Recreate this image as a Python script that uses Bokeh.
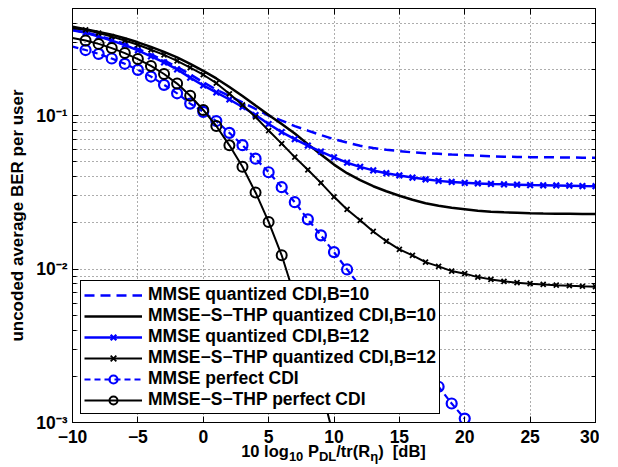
from bokeh.plotting import figure
from bokeh.layouts import column
from bokeh.models import (FixedTicker, CustomJSTickFormatter, LinearAxis, LogAxis,
                          Range1d, Legend, LegendItem, Div)
from bokeh.embed import file_html
from bokeh.resources import INLINE

# ---------------- data ----------------
snr_db = list(range(-10, 31))
snr_mmse_perfect = list(range(-10, 21))
snr_thp_perfect = list(range(-10, 11))

mmse_q_b10 = [0.363, 0.350, 0.332, 0.313, 0.294, 0.273, 0.251, 0.2295, 0.208, 0.186,
              0.165, 0.148, 0.1345, 0.122, 0.1106, 0.1003, 0.0930, 0.0856, 0.0800, 0.0748,
              0.0704, 0.0668, 0.0637, 0.0615, 0.0599, 0.0588, 0.0577, 0.0570, 0.0564, 0.0558,
              0.0553, 0.0548, 0.0544, 0.0541, 0.0539, 0.0537, 0.0536, 0.0535, 0.0534, 0.0533, 0.0533]
thp_q_b10 = [0.380, 0.366, 0.352, 0.337, 0.320, 0.301, 0.281, 0.261, 0.240, 0.218,
             0.196, 0.175, 0.154, 0.1345, 0.1166, 0.1011, 0.0883, 0.0765, 0.0653, 0.0558,
             0.0480, 0.0422, 0.0380, 0.0347, 0.0322, 0.0301, 0.0283, 0.0269, 0.0259, 0.0251,
             0.02456, 0.0240, 0.02365, 0.02347, 0.0233, 0.02312, 0.02302, 0.02295, 0.02293, 0.0229, 0.02285]
mmse_q_b12 = [0.3605, 0.347, 0.328, 0.309, 0.289, 0.267, 0.2436, 0.2226, 0.2004, 0.177,
              0.1575, 0.1418, 0.1276, 0.114, 0.1011, 0.0883, 0.0782, 0.0704, 0.0639, 0.0583,
              0.0535, 0.0494, 0.0464, 0.0440, 0.0422, 0.0408, 0.0395, 0.0385, 0.0376, 0.0370,
              0.0365, 0.0362, 0.0359, 0.0357, 0.0355, 0.0353, 0.0352, 0.0351, 0.0350, 0.0348, 0.0347]
thp_q_b12 = [0.372, 0.363, 0.346, 0.328, 0.309, 0.290, 0.269, 0.249, 0.228, 0.206,
             0.185, 0.163, 0.139, 0.1175, 0.0981, 0.080, 0.0658, 0.0537, 0.0444, 0.0365,
             0.0296, 0.0245, 0.0208, 0.0176, 0.0152, 0.01345, 0.0123, 0.0111, 0.01042, 0.00971,
             0.00934, 0.00887, 0.00857, 0.00832, 0.00816, 0.00804, 0.00795, 0.00786, 0.00779, 0.00773, 0.00768]
mmse_perfect = [0.282, 0.268, 0.253, 0.236, 0.218, 0.199, 0.180, 0.159, 0.140, 0.120,
                0.106, 0.0923, 0.0773, 0.0643, 0.0525, 0.0428, 0.0342, 0.0273, 0.0211, 0.0166,
                0.0129, 0.00995, 0.00773, 0.0060, 0.00466, 0.00361, 0.00281, 0.00219, 0.00171, 0.00133, 0.00106]
thp_perfect = [0.321, 0.309, 0.294, 0.276, 0.256, 0.234, 0.211, 0.187, 0.162, 0.135,
               0.109, 0.0857, 0.0641, 0.0465, 0.0316, 0.0203, 0.0123, 0.00661, 0.00347, 0.0017, 0.000794]

series_labels = ["MMSE quantized CDI,B=10",
                 "MMSE\u2212S\u2212THP quantized CDI,B=10",
                 "MMSE quantized CDI,B=12",
                 "MMSE\u2212S\u2212THP quantized CDI,B=12",
                 "MMSE perfect CDI",
                 "MMSE\u2212S\u2212THP perfect CDI"]

x_ticks = [-10, -5, 0, 5, 10, 15, 20, 25, 30]
y_major = [1e-3, 1e-2, 1e-1]
y_minor = [m * 10.0 ** e for e in (-3, -2, -1) for m in range(2, 10) if m * 10.0 ** e <= 0.5]
y_label = "uncoded average BER per user"
SUB = '<sub style="font-size:13px">'
x_label_html = (f"10 log{SUB}10</sub> P{SUB}DL</sub>/tr(R{SUB}\u03b7</sub>)"
                "&nbsp;&nbsp;[dB]")

FONT = "Liberation Sans"
BLUE = "#0000ff"
GRID = "#5a5a5a"

# ---------------- figure ----------------
p = figure(frame_width=523, frame_height=414, x_range=Range1d(-10, 30),
           y_range=Range1d(1e-3, 0.5),
           y_axis_type="log", output_backend="svg", toolbar_location=None,
           min_border_left=72, min_border_right=4, min_border_top=8, min_border_bottom=24)
p.title.visible = False
p.background_fill_color = "white"
p.border_fill_color = "white"
p.outline_line_color = "black"
p.outline_line_width = 1

xt = FixedTicker(ticks=x_ticks)
yt = FixedTicker(ticks=y_major, minor_ticks=y_minor)

xfmt = CustomJSTickFormatter(code="return tick < 0 ? '\\u2212' + Math.abs(tick) : String(tick);")
yfmt = CustomJSTickFormatter(code="""
const e = Math.round(Math.log10(tick));
const sup = {'-':'\\u207B','0':'\\u2070','1':'\\u00B9','2':'\\u00B2','3':'\\u00B3','4':'\\u2074'};
return '10' + String(e).split('').map(c => sup[c]).join('');
""")
blank = CustomJSTickFormatter(code="return '';")

xa = p.xaxis[0]
xa.ticker = xt
xa.formatter = xfmt
ya = p.yaxis[0]
ya.ticker = yt
ya.formatter = yfmt

for ax in (xa, ya):
    ax.major_tick_in = 6
    ax.major_tick_out = 0
    ax.minor_tick_in = 0
    ax.minor_tick_out = 0
    ax.axis_line_color = "black"
    ax.major_tick_line_color = "black"
    ax.major_label_text_font = FONT
    ax.major_label_text_font_style = "bold"
    ax.major_label_text_color = "black"
xa.major_label_text_font_size = "17.5px"
xa.major_label_standoff = 7
ya.minor_tick_in = 4
ya.minor_tick_line_color = "black"
ya.major_label_text_font_size = "17.5px"
ya.major_label_standoff = 5
ya.axis_label = y_label
ya.axis_label_text_font = FONT
ya.axis_label_text_font_style = "bold"
ya.axis_label_text_font_size = "17px"
ya.axis_label_text_color = "black"
ya.axis_label_standoff = 6

for side, AxCls, tk, minor_in in (("above", LinearAxis, xt, 0), ("right", LogAxis, yt, 4)):
    ax = AxCls(ticker=tk, formatter=blank, major_label_text_font_size="1px",
               major_label_standoff=0, axis_label_standoff=0, axis_label_text_font_size="1px",
               major_tick_in=6, major_tick_out=0, minor_tick_in=minor_in, minor_tick_out=0,
               axis_line_color="black", major_tick_line_color="black",
               minor_tick_line_color="black")
    p.add_layout(ax, side)

p.xgrid.ticker = xt
p.xgrid.grid_line_color = GRID
p.xgrid.grid_line_dash = "1 3"
p.xgrid.grid_line_width = 1
p.ygrid.grid_line_color = GRID
p.ygrid.grid_line_dash = "1 3"
p.ygrid.grid_line_width = 1
p.ygrid.minor_grid_line_color = GRID
p.ygrid.minor_grid_line_dash = "1 3"
p.ygrid.minor_grid_line_width = 1

# ---------------- curves ----------------
r1 = p.line(snr_db, mmse_q_b10, line_color=BLUE, line_width=2.5, line_dash="10 6")
r2 = p.line(snr_db, thp_q_b10, line_color="black", line_width=2.5)
r3 = p.line(snr_db, mmse_q_b12, line_color=BLUE, line_width=2.5)
r3m = p.scatter(snr_db[1:], mmse_q_b12[1:], marker="x", size=8, line_color=BLUE, line_width=2.2)
r4 = p.line(snr_db, thp_q_b12, line_color="black", line_width=2)
r4m = p.scatter(snr_db[1:], thp_q_b12[1:], marker="x", size=7, line_color="black", line_width=1.8)
r5 = p.line(snr_mmse_perfect, mmse_perfect, line_color=BLUE, line_width=2.2, line_dash="6 4")
r5m = p.scatter(snr_mmse_perfect[1:], mmse_perfect[1:], marker="circle", size=10,
                fill_color=None, line_color=BLUE, line_width=2.2)
r6 = p.line(snr_thp_perfect, thp_perfect, line_color="black", line_width=2)
r6m = p.scatter(snr_thp_perfect[1:], thp_perfect[1:], marker="circle", size=10,
                fill_color=None, line_color="black", line_width=2)

items = [LegendItem(label=series_labels[0], renderers=[r1]),
         LegendItem(label=series_labels[1], renderers=[r2]),
         LegendItem(label=series_labels[2], renderers=[r3, r3m]),
         LegendItem(label=series_labels[3], renderers=[r4, r4m]),
         LegendItem(label=series_labels[4], renderers=[r5, r5m]),
         LegendItem(label=series_labels[5], renderers=[r6, r6m])]
leg = Legend(items=items, location=(8, 8), orientation="vertical",
             border_line_color="black", border_line_width=1, border_line_alpha=1,
             background_fill_color="white", background_fill_alpha=1,
             label_text_font=FONT, label_text_font_style="bold", label_text_font_size="17.5px",
             label_text_color="black", glyph_width=58, glyph_height=20, label_height=20,
             label_standoff=6, spacing=0, padding=3, margin=0)
p.add_layout(leg, "center")

# ---------------- x-axis label (HTML, with subscripts) ----------------
xlab = Div(text=x_label_html, width=523, height=18, margin=(-3, 0, 0, 72),
           styles={"font-family": FONT, "font-weight": "bold", "font-size": "16.5px",
                   "text-align": "center", "line-height": "16px", "color": "black",
                   "white-space": "nowrap"})

layout = column(p, xlab, spacing=0)
open("out.html", "w").write(file_html(layout, INLINE))
